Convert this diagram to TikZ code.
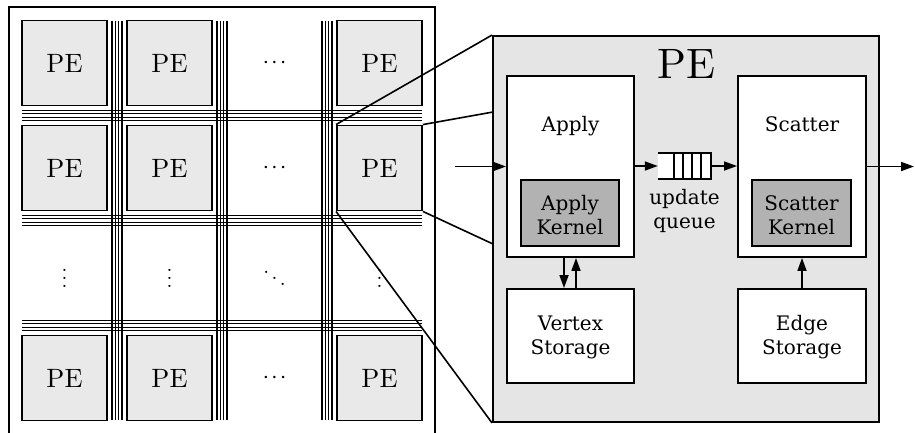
\documentclass[tikz,border=0pt]{standalone}
\usepackage{fontspec}
\newfontfamily\dvs{DejaVu Serif}
\usetikzlibrary{arrows.meta}
\definecolor{gridgray}{HTML}{E9E9E9}
\definecolor{pegray}{HTML}{E5E5E5}
\definecolor{kerngray}{HTML}{B2B2B2}
\newcommand{\hdotsrow}{\scalebox{2.4}{${\cdotp}\mkern1.5mu{\cdotp}\mkern1.5mu{\cdotp}$}}
\newcommand{\vdotscol}{\scalebox{2.1}{$\vdots$}}
\newcommand{\ddotsdiag}{\scalebox{2.1}{$\ddots$}}
\newcommand{\gridpe}{\scalebox{2.65}{PE}}
\begin{document}
\begin{tikzpicture}[x=1pt,y=-1pt,
  pebox/.style={draw, line width=1.9pt, fill=gridgray, minimum width=85pt, minimum height=85pt, inner sep=0pt},
  dotnode/.style={inner sep=0pt},
  bus/.style={line width=1.3pt},
  blk/.style={draw, line width=1.9pt, fill=white, inner sep=0pt},
  kern/.style={draw, line width=1.9pt, fill=kerngray, inner sep=0pt},
  lbl/.style={font=\dvs\fontsize{20}{24}\selectfont, inner sep=0pt, anchor=base},
  arr/.style={line width=1.7pt, -{Triangle[length=13pt,width=9pt]}},
  zoomline/.style={line width=1.6pt}]
\useasboundingbox (0,0) rectangle (915,432);
\clip (0,0) rectangle (915,432);

% outer frame of the grid
\draw[line width=1.5pt] (9,7) rectangle (435,450);

% buses
\foreach \c in {117,222,327} {
  \foreach \d in {-5,-1.67,1.67,5} {
    \draw[bus] (\c+\d,21) -- (\c+\d,420);
  }
}
\foreach \r in {115.5,220.5,325.5} {
  \foreach \d in {-5,-1.67,1.67,5} {
    \draw[bus] (22,\r+\d) -- (422,\r+\d);
  }
}

% PE grid
\node[pebox] (pe11) at (64.5,63) {\gridpe};
\node[pebox] (pe12) at (169.5,63) {\gridpe};
\node[pebox] (pe14) at (379.5,63) {\gridpe};
\node[pebox] (pe21) at (64.5,168) {\gridpe};
\node[pebox] (pe22) at (169.5,168) {\gridpe};
\node[pebox] (pe24) at (379.5,168) {\gridpe};
\node[pebox] (pe41) at (64.5,378) {\gridpe};
\node[pebox] (pe42) at (169.5,378) {\gridpe};
\node[pebox] (pe44) at (379.5,378) {\gridpe};

\node[dotnode] (d13) at (274.5,63) {\hdotsrow};
\node[dotnode] (d23) at (274.5,168) {\hdotsrow};
\node[dotnode] (d43) at (274.5,378) {\hdotsrow};
\node[dotnode] (d31) at (64.5,272) {\vdotscol};
\node[dotnode] (d32) at (169.5,272) {\vdotscol};
\node[dotnode] (d33) at (274.5,272) {\ddotsdiag};
\node[dotnode] (d34) at (379.5,272) {\vdotscol};

% big PE
\node[draw, line width=1.9pt, fill=pegray, minimum width=386pt, minimum height=386pt, inner sep=0pt] (bigpe) at (686,229) {};
\node[inner sep=0pt] (bigpelabel) at (686,64) {\scalebox{4.25}{PE}};

\coordinate (zt) at (493,112);
\coordinate (zb) at (493,244);
\draw[zoomline] (pe24.north west) -- (bigpe.north west);
\draw[zoomline] (pe24.north east) -- (zt);
\draw[zoomline] (pe24.south east) -- (zb);
\draw[zoomline] (pe24.south west) -- (bigpe.south west);

% inner blocks
\node[blk, minimum width=127pt, minimum height=181pt] (apply) at (570.5,166.5) {};
\node[blk, minimum width=128pt, minimum height=181pt] (scatter) at (802,166.5) {};
\node[lbl] (applylbl) at (570.5,131) {Apply};
\node[lbl] (scatterlbl) at (802,131) {Scatter};

\node[kern, minimum width=98pt, minimum height=66pt] (akern) at (570,213) {};
\node[kern, minimum width=99pt, minimum height=66pt] (skern) at (801.5,213) {};
\node[lbl] (ak1) at (570,210) {Apply};
\node[lbl] (ak2) at (570,234) {Kernel};
\node[lbl] (sk1) at (801.5,210) {Scatter};
\node[lbl] (sk2) at (801.5,234) {Kernel};

\node[blk, minimum width=127pt, minimum height=94pt] (vertex) at (570.5,336) {};
\node[blk, minimum width=128pt, minimum height=94pt] (edge) at (802,336) {};
\node[lbl] (v1) at (570.5,330) {Vertex};
\node[lbl] (v2) at (570.5,354) {Storage};
\node[lbl] (e1) at (802,330) {Edge};
\node[lbl] (e2) at (802,354) {Storage};

% queue
\node[fill=white, minimum width=53pt, minimum height=25pt, inner sep=0pt] (q) at (684.5,166) {};
\draw[line width=1.9pt] (q.north west) -- (q.north east) -- (q.south east) -- (q.south west);
\foreach \dx in {16,25,34,43} {
  \draw[line width=1.7pt] ([xshift=\dx pt]q.north west) -- ([xshift=\dx pt]q.south west);
}
\node[lbl] (u1) at (684.5,204) {update};
\node[lbl] (u2) at (684.5,228) {queue};

% arrows
\coordinate (in) at (455,166.5);
\coordinate (out) at (914,166.5);
\draw[arr] (in) -- (apply.west);
\draw[arr] (q.west -| apply.east) -- (q.west);
\draw[arr] (q.east) -- (q.east -| scatter.west);
\draw[arr] (scatter.east) -- (out);
\draw[arr] ([xshift=-6.5pt]apply.south) -- ([xshift=-6.5pt]vertex.north);
\draw[arr] ([xshift=5.5pt]vertex.north) -- ([xshift=5.5pt]apply.south);
\draw[arr] (edge.north) -- (scatter.south);
\end{tikzpicture}
\end{document}
